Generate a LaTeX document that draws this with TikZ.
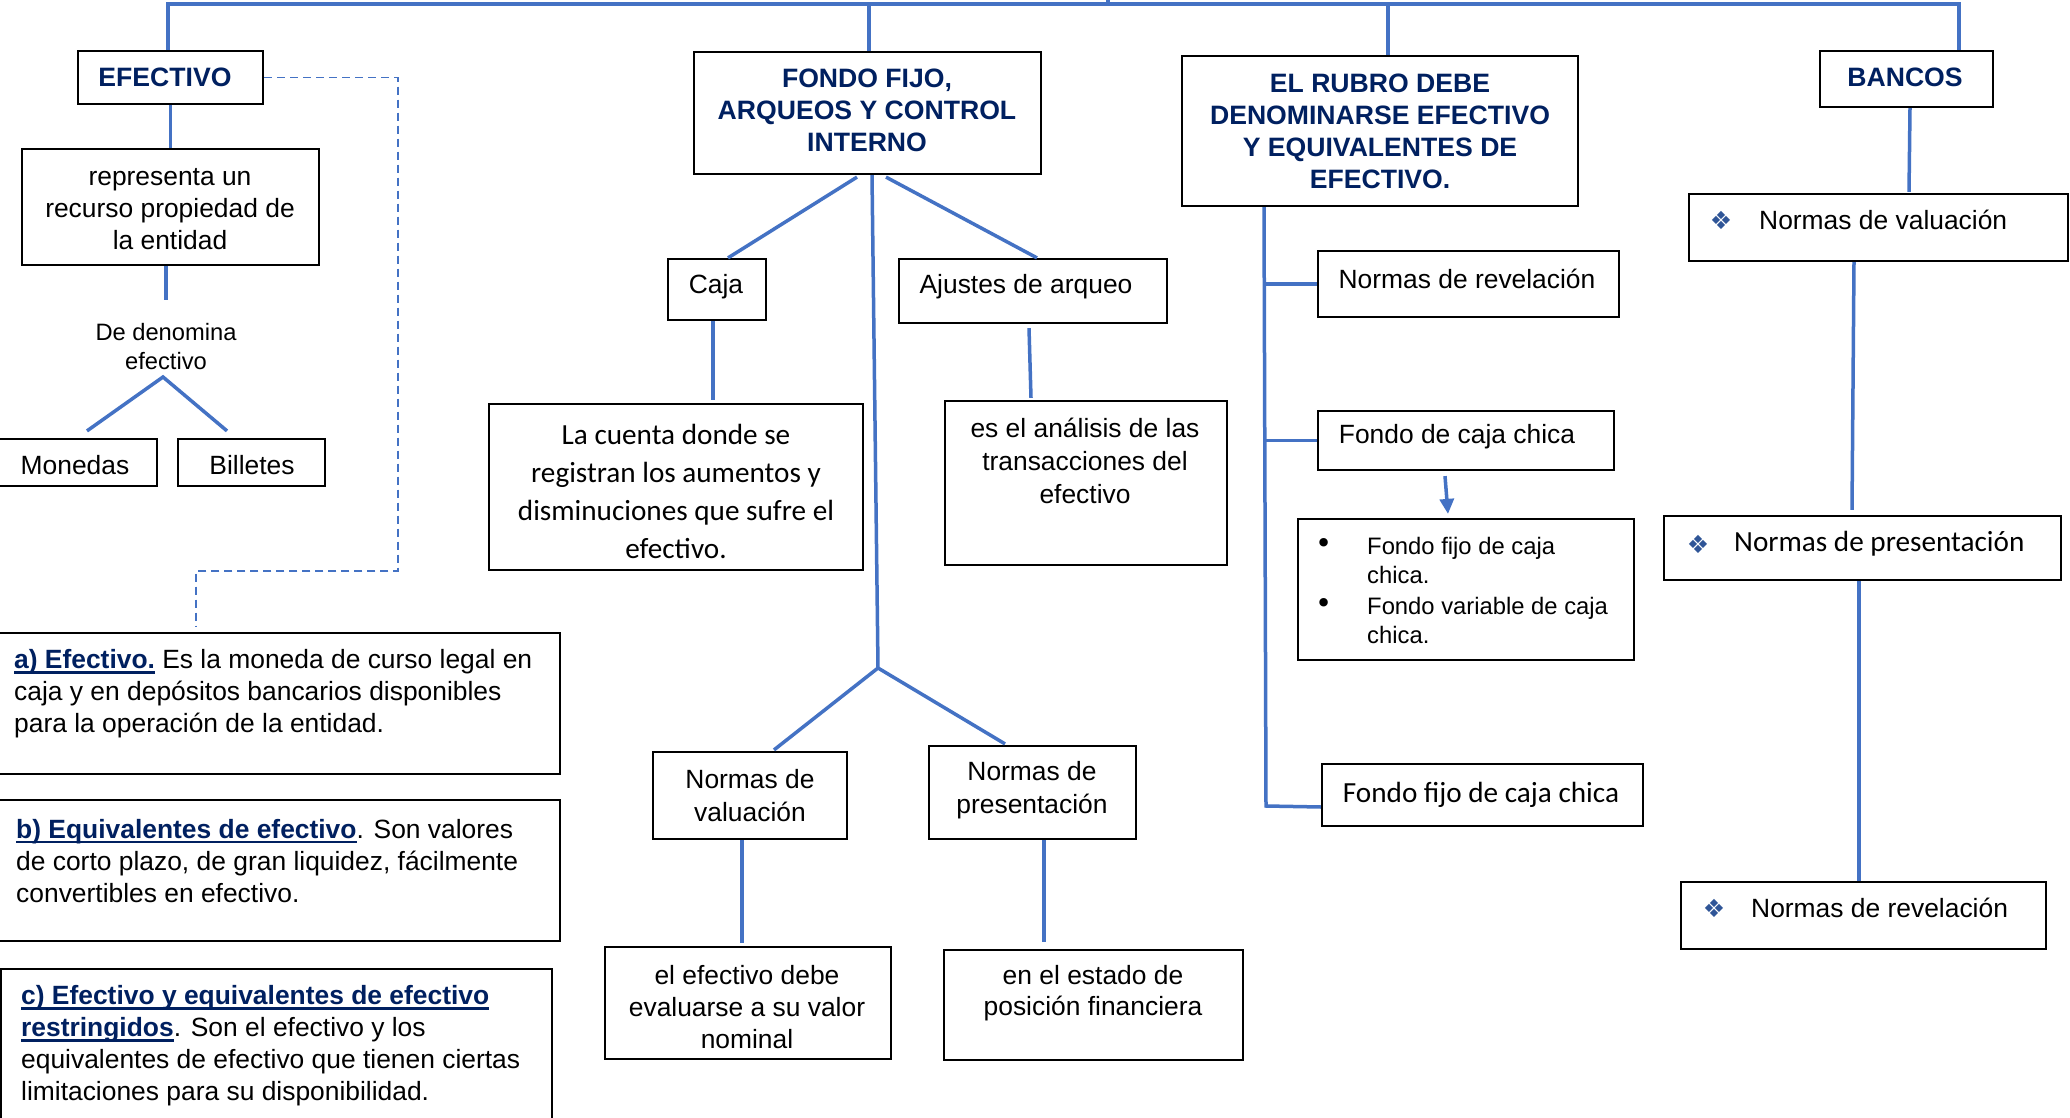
\documentclass[tikz,border=0pt]{standalone}
\usepackage{fontspec}
\setmainfont{Liberation Sans}
\newfontfamily\calfont{Carlito}
\newfontfamily\djfont{DejaVu Sans}
\usetikzlibrary{calc,arrows.meta}
\definecolor{conblue}{RGB}{68,114,196}
\definecolor{navy}{RGB}{0,32,96}
\definecolor{dia}{RGB}{47,85,151}
\newcommand\ulin[1]{\leavevmode\setbox0\hbox{#1}\rlap{\rule[-5pt]{\wd0}{2.4pt}}\box0}
\newcommand\mkbox[5]{\node[box, minimum width={(#4)-(#2)}, minimum height={(#5)-(#3)}] (#1) at ({((#2)+(#4))/2},{((#3)+(#5))/2}) {};}
\tikzset{
 box/.style={draw=black, line width=2.2pt, rectangle, inner sep=0pt},
 conn/.style={draw=conblue, line width=3.5pt},
 dsh/.style={draw=conblue, line width=1.8pt, dash pattern=on 8pt off 5pt},
 ar/.style={inner sep=0pt, font=\fontsize{26.4}{32}\selectfont, align=center},
 arl/.style={inner sep=0pt, font=\fontsize{26.4}{32}\selectfont, align=left, anchor=west},
 cal/.style={inner sep=0pt, font=\calfont\fontsize{29.2}{38}\selectfont, align=center},
 hd/.style={inner sep=0pt, font=\bfseries\fontsize{26.6}{32}\selectfont, text=navy, align=center},
 dm/.style={inner sep=0pt, font=\djfont\fontsize{25}{25}\selectfont, text=dia},
 bul/.style={inner sep=0pt, font=\djfont\fontsize{29}{29}\selectfont},
}
\begin{document}
\begin{tikzpicture}[x=1pt,y=-1pt]
\fill[white] (0,0) rectangle (2070,1118);
\useasboundingbox (0,0) rectangle (2070,1118);

% ---------- boxes
\mkbox{EFE}{78}{51}{263}{104}
\mkbox{REP}{22}{149}{319}{265}
\mkbox{MON}{-5}{439}{157}{486}
\mkbox{BIL}{178}{439}{325}{486}
\mkbox{BA}{-5}{633}{560}{774}
\mkbox{BB}{-5}{800}{560}{941}
\mkbox{BC}{1}{969}{552}{1135}
\mkbox{FON}{694}{52}{1041}{174}
\mkbox{CAJ}{668}{259}{766}{320}
\mkbox{AJU}{899}{259}{1167}{323}
\mkbox{CUE}{489}{404}{863}{570}
\mkbox{ANA}{945}{401}{1227}{565}
\mkbox{NVM}{653}{752}{847}{839}
\mkbox{NPM}{929}{746}{1136}{839}
\mkbox{EVA}{605}{947}{891}{1059}
\mkbox{EST}{944}{950}{1243}{1060}
\mkbox{RUB}{1182}{56}{1578}{206}
\mkbox{NRV}{1318}{251}{1619}{317}
\mkbox{FCC}{1318}{411}{1614}{470}
\mkbox{BUL}{1298}{519}{1634}{660}
\mkbox{FFC}{1322}{764}{1643}{826}
\mkbox{BAN}{1820}{51}{1993}{107}
\mkbox{BNV}{1689}{194}{2068}{261}
\mkbox{BNP}{1664}{516}{2061}{580}
\mkbox{BNR}{1681}{882}{2046}{949}

% ---------- texts
\node[hd] (tEFE) at (165,77) {EFECTIVO};
\node[ar] (tREP) at (170,209) {representa un\\recurso propiedad de\\la entidad};
\node[ar, font=\fontsize{23.7}{29}\selectfont] (DEN) at (166,347) {De denomina\\efectivo};
\node[ar] (tMON) at (75,465) {Monedas};
\node[ar] (tBIL) at (252,465) {Billetes};
\node[arl] (tBA) at (14,694) {{\color{navy}\bfseries\ulin{a) Efectivo.}} Es la moneda de curso legal en\\caja y en depósitos bancarios disponibles\\para la operación de la entidad.};
\node[arl] (tBB) at (16,861) {{\color{navy}\bfseries\ulin{b) Equivalentes de efectivo}}. Son valores\\de corto plazo, de gran liquidez, fácilmente\\convertibles en efectivo.};
\node[arl] (tBC) at (21,1046) {{\color{navy}\bfseries\ulin{c) Efectivo y equivalentes de efectivo}}\\{\color{navy}\bfseries\ulin{restringidos}}. Son el efectivo y los\\equivalentes de efectivo que tienen ciertas\\limitaciones para su disponibilidad.};

\node[hd] (tFON) at (867,110) {FONDO FIJO,\\ARQUEOS Y CONTROL\\INTERNO};
\node[ar] (tCAJ) at (716,287) {Caja};
\node[ar] (tAJU) at (1026,287) {Ajustes de arqueo};
\node[cal] (tCUE) at (676,491) {La cuenta donde se\\registran los aumentos y\\disminuciones que sufre el\\efectivo.};
\node[ar, font=\fontsize{26.4}{33}\selectfont] (tANA) at (1085,461) {es el análisis de las\\transacciones del\\efectivo};
\node[ar, font=\fontsize{26.4}{33}\selectfont] (tNVM) at (750,795.5) {Normas de\\valuación};
\node[ar, font=\fontsize{26.4}{33}\selectfont] (tNPM) at (1032,790) {Normas de\\presentación};
\node[ar, font=\fontsize{26.4}{32}\selectfont] (tEVA) at (747,1007) {el efectivo debe\\evaluarse a su valor\\nominal};
\node[ar, font=\fontsize{26.4}{31}\selectfont] (tEST) at (1093,993.5) {en el estado de\\posición financiera};

\node[hd] (tRUB) at (1380,131) {EL RUBRO DEBE\\DENOMINARSE EFECTIVO\\Y EQUIVALENTES DE\\EFECTIVO.};
\node[ar] (tNRV) at (1467,279) {Normas de revelación};
\node[ar] (tFCC) at (1457,437) {Fondo de caja chica};
\node[bul] (b1) at (1324,546) {•};
\node[bul] (b2) at (1324,606) {•};
\node[arl, font=\fontsize{23.8}{29}\selectfont] (i1) at (1367,560.5) {Fondo fijo de caja\\chica.};
\node[arl, font=\fontsize{23.8}{29}\selectfont] (i2) at (1367,620.5) {Fondo variable de caja\\chica.};
\node[cal] (tFFC) at (1481,795) {Fondo fijo de caja chica};

\node[hd] (tBAN) at (1905,77) {BANCOS};
\node[dm] (d1) at (1721,220) {❖};
\node[arl] (tBNV) at (1759,220) {Normas de valuación};
\node[dm] (d2) at (1698,544) {❖};
\node[cal, anchor=west] (tBNP) at (1734,544) {Normas de presentación};
\node[dm] (d3) at (1714,908) {❖};
\node[arl] (tBNR) at (1751,908) {Normas de revelación};

% ---------- connectors
\coordinate (topR) at (1959,4);
\coordinate (efeTop) at ($(EFE.north)+(-2.5,0)$);
\draw[conn] (efeTop) |- (topR) -- (topR |- BAN.north);
\coordinate (fonTop) at ($(FON.north)+(1.5,0)$);
\draw[conn] (fonTop) -- (fonTop |- topR);
\coordinate (rubTop) at ($(RUB.north)+(8,0)$);
\draw[conn] (rubTop) -- (rubTop |- topR);
\coordinate (par) at (1108,-6);
\draw[conn] (par) -- (par |- topR);

\draw[conn] (EFE.south) -- (REP.north);
\coordinate (denA) at (REP.south -| DEN.north);
\draw[conn] (denA) -- ++(0,34);
\coordinate (ap) at (163,377);
\draw[conn] ($(MON.north)+(11,-7)$) -- (ap) -- ($(BIL.north)+(-24.5,-7)$);
\coordinate (dsh1) at (398,571);
\coordinate (dsh2) at (196,627);
\draw[dsh] (EFE.east) -| (dsh1) -| (dsh2);

\draw[conn] ($(FON.south)+(-10.5,2)$) -- ($(CAJ.north)+(11,0)$);
\coordinate (ap2) at (878,668);
\draw[conn] ($(FON.south)+(4.5,0)$) -- (ap2);
\draw[conn] ($(FON.south)+(18.5,2)$) -- ($(AJU.north)+(4,0)$);
\draw[conn] ($(NVM.north)+(24,-1)$) -- (ap2) -- ($(NPM.north)+(-27.5,-1)$);
\draw[conn] ($(CAJ.south)+(-4,0)$) -- ($(CUE.north)+(37,-3)$);
\draw[conn] ($(AJU.south)+(-4,4)$) -- ($(ANA.north)+(-55,-2)$);
\draw[conn] ($(NVM.south)+(-8,0)$) -- ($(EVA.north)+(-6,-3)$);
\draw[conn] ($(NPM.south)+(11.5,0)$) -- ($(EST.north)+(-49.5,-7)$);

\coordinate (rubB) at ($(RUB.south)+(-116,0)$);
\coordinate (rubC) at (1266,806);
\draw[conn] (rubB) -- (rubC) -- ($(FFC.west)+(0,12)$);
\draw[conn] (NRV.west -| rubB) -- (NRV.west);
\draw[conn] (FCC.west -| rubB) -- (FCC.west);
\draw[conn, -{Triangle[length=15pt,width=14pt]}] ($(FCC.south)+(-21,5)$) -- ($(BUL.north)+(-18,-4)$);
\draw[conn] ($(BAN.south)+(3.5,0)$) -- ($(BNV.north)+(30.5,-1)$);
\draw[conn] ($(BNV.south)+(-24.5,0)$) -- ($(BNP.north)+(-10.5,-5)$);
\draw[conn] ($(BNP.south)+(-3.5,0)$) -- ($(BNR.north)+(-4.5,0)$);
\end{tikzpicture}
\end{document}
